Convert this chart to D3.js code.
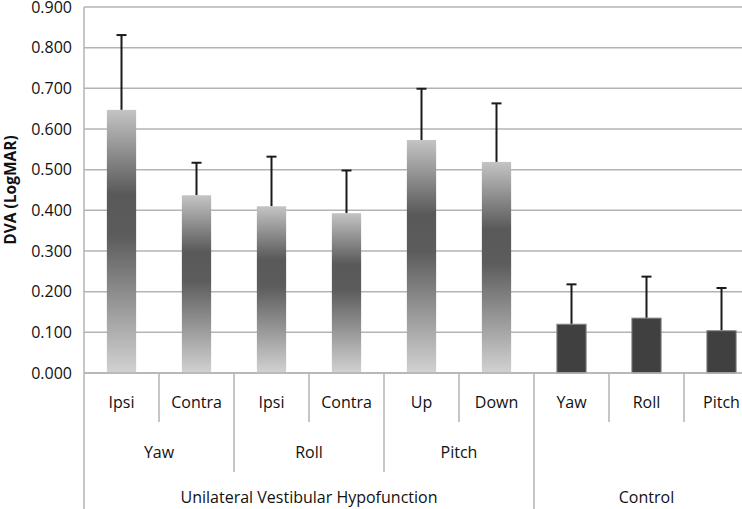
<!DOCTYPE html>
<html>
<head>
<meta charset="utf-8">
<script src="https://cdn.jsdelivr.net/npm/d3@7"></script>
<style>
  body { margin: 0; background: #fff; }
  svg { display: block; font-family: "Open Sans", sans-serif; }
</style>
</head>
<body>
<svg id="chart" width="742" height="509"></svg>
<script>
// bars, left to right
const labels = ["Ipsi", "Contra", "Ipsi", "Contra", "Up", "Down", "Yaw", "Roll", "Pitch"];
const means = [0.647, 0.437, 0.410, 0.393, 0.573, 0.519, 0.120, 0.135, 0.104];
const sds = [0.184, 0.080, 0.122, 0.105, 0.126, 0.144, 0.098, 0.102, 0.105];
const isControl = [false, false, false, false, false, false, true, true, true];

// second level: [label, first bar, last bar]
const planes = [["Yaw", 0, 1], ["Roll", 2, 3], ["Pitch", 4, 5]];
// third level
const groups = [["Unilateral Vestibular Hypofunction", 0, 5], ["Control", 6, 8]];

const yTicks = [0, 0.1, 0.2, 0.3, 0.4, 0.5, 0.6, 0.7, 0.8, 0.9];

const svg = d3.select("#chart");
const m = {left: 84, right: 759, top: 7, bottom: 373};

const x = d3.scaleBand().domain(d3.range(labels.length)).range([m.left, m.right]);
const y = d3.scaleLinear().domain([0, 0.9]).range([m.bottom, m.top]);

const grad = svg.append("defs").append("linearGradient")
  .attr("id", "barGrad").attr("x1", 0).attr("y1", 0).attr("x2", 0).attr("y2", 1);
grad.append("stop").attr("offset", "0%").attr("stop-color", "#c4c4c4");
grad.append("stop").attr("offset", "32%").attr("stop-color", "#595959");
grad.append("stop").attr("offset", "48%").attr("stop-color", "#5c5c5c");
grad.append("stop").attr("offset", "100%").attr("stop-color", "#d2d2d2");

// gridlines
svg.append("g")
  .selectAll("line").data(yTicks).join("line")
  .attr("x1", m.left).attr("x2", m.right)
  .attr("y1", d => y(d)).attr("y2", d => y(d))
  .attr("stroke", "#b3b3b3").attr("stroke-width", 1.5);

// y axis
const yAxis = d3.axisLeft(y).tickValues(yTicks).tickFormat(d3.format(".3f")).tickSize(0).tickPadding(12);
const yg = svg.append("g").attr("transform", `translate(${m.left},0)`).call(yAxis);
yg.select(".domain").remove();
yg.selectAll("text").attr("font-size", 16).attr("fill", "#111").attr("font-family", "Open Sans, sans-serif");

svg.append("line")
  .attr("x1", m.left).attr("x2", m.left).attr("y1", m.top).attr("y2", 509)
  .attr("stroke", "#b3b3b3").attr("stroke-width", 1.5);

svg.append("text")
  .attr("transform", "translate(16,190) rotate(-90)")
  .attr("text-anchor", "middle")
  .attr("font-size", 15.5).attr("font-weight", "bold").attr("fill", "#111")
  .text("DVA (LogMAR)");

const bw = x.bandwidth() * 0.39;
const cx = i => x(i) + x.bandwidth() / 2;

// error bars (behind bars)
const err = svg.append("g").selectAll("g").data(means).join("g");
err.append("line")
  .attr("x1", (d, i) => cx(i)).attr("x2", (d, i) => cx(i))
  .attr("y1", d => y(d)).attr("y2", (d, i) => y(d + sds[i]))
  .attr("stroke", "#1a1a1a").attr("stroke-width", 2);
err.append("line")
  .attr("x1", (d, i) => cx(i) - 5).attr("x2", (d, i) => cx(i) + 5)
  .attr("y1", (d, i) => y(d + sds[i])).attr("y2", (d, i) => y(d + sds[i]))
  .attr("stroke", "#1a1a1a").attr("stroke-width", 2);

// bars
svg.append("g").selectAll("rect").data(means).join("rect")
  .attr("x", (d, i) => cx(i) - bw / 2)
  .attr("width", bw)
  .attr("y", d => y(d))
  .attr("height", d => m.bottom - y(d))
  .attr("fill", (d, i) => isControl[i] ? "#404040" : "url(#barGrad)")
  .attr("stroke", (d, i) => isControl[i] ? "#8a8a8a" : "none")
  .attr("stroke-width", 1);

// x axis line
svg.append("line")
  .attr("x1", m.left).attr("x2", m.right).attr("y1", m.bottom).attr("y2", m.bottom)
  .attr("stroke", "#b3b3b3").attr("stroke-width", 1.5);

// category dividers
const lv1 = 422, lv2 = 472, lv3 = 509;
const divEnd = i => {
  if (groups.some(g => g[1] === i)) return lv3;
  if (planes.some(p => p[1] === i)) return lv2;
  return lv1;
};
svg.append("g").selectAll("line").data(d3.range(1, labels.length)).join("line")
  .attr("x1", i => x(i)).attr("x2", i => x(i))
  .attr("y1", m.bottom).attr("y2", i => divEnd(i))
  .attr("stroke", "#b3b3b3").attr("stroke-width", 1.5);

const txt = sel => sel.attr("text-anchor", "middle").attr("font-size", 16).attr("fill", "#111");

svg.append("g").selectAll("text").data(labels).join("text")
  .attr("x", (d, i) => cx(i)).attr("y", 408)
  .call(txt).text(d => d);

svg.append("g").selectAll("text").data(planes).join("text")
  .attr("x", d => (x(d[1]) + x(d[2]) + x.bandwidth()) / 2).attr("y", 458)
  .call(txt).text(d => d[0]);

svg.append("g").selectAll("text").data(groups).join("text")
  .attr("x", d => (x(d[1]) + x(d[2]) + x.bandwidth()) / 2).attr("y", 503)
  .call(txt).text(d => d[0]);
</script>
</body>
</html>
